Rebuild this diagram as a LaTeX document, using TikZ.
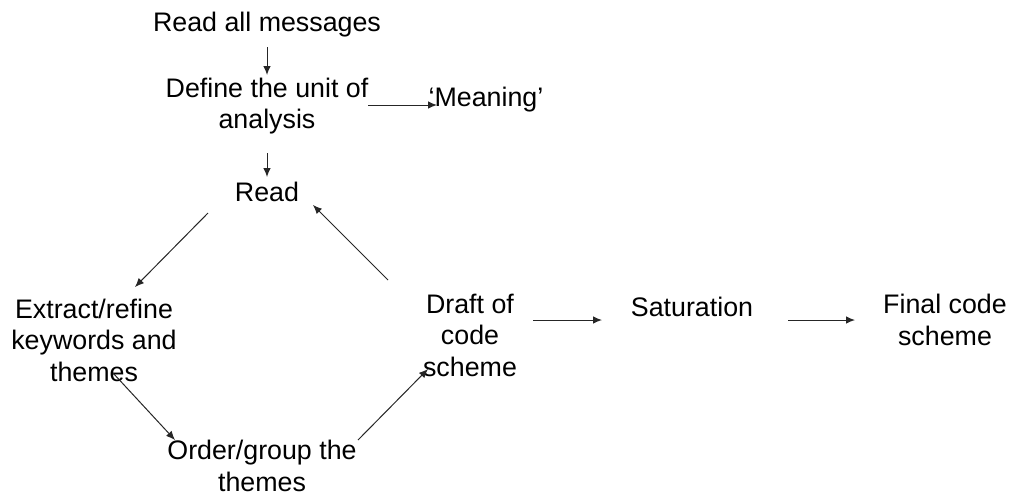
\documentclass[tikz,border=0pt]{standalone}
\usepackage{fontspec}
\setmainfont{Liberation Sans}
\usetikzlibrary{arrows.meta,calc}
\begin{document}
\begin{tikzpicture}[x=1pt,y=-1pt,
  lbl/.style={inner sep=0pt,align=center,font=\fontsize{26.8}{31.5}\selectfont},
  arr/.style={draw=black!85,line width=1pt,-{Latex[length=9pt,width=7.5pt]}}]
\useasboundingbox (0,0) rectangle (1016,496);
\node[lbl] (rm) at (267,25) {Read all messages};
\node[lbl] (def) at (267,106) {Define the unit of\\analysis};
\node[lbl] (mean) at (486,100) {`Meaning'};
\node[lbl] (read) at (267,192) {Read};
\node[lbl] (ext) at (94,340) {Extract/refine\\keywords and\\themes};
\node[lbl] (ord) at (262,466) {Order/group the\\themes};
\node[lbl] (draft) at (470,335) {Draft of\\code\\scheme};
\node[lbl] (sat) at (692,307) {Saturation};
\node[lbl] (fin) at (945,320) {Final code\\scheme};
\draw[arr] ($(rm)+(0,22)$) -- ($(def)+(0,-31)$);
\draw[arr] ($(def)+(101,-1)$) -- ($(mean)+(-49,5)$);
\draw[arr] ($(def)+(0,47)$) -- ($(read)+(0,-15)$);
\draw[arr] ($(read)+(-59,21)$) -- ($(ext)+(41,-53)$);
\draw[arr] ($(ext)+(19,33)$) -- ($(ord)+(-87,-26)$);
\draw[arr] ($(ord)+(96,-26)$) -- ($(draft)+(-42,34)$);
\draw[arr] ($(draft)+(-82,-55)$) -- ($(read)+(46,13)$);
\draw[arr] ($(draft)+(63,-15)$) -- ($(sat)+(-90,13)$);
\draw[arr] ($(sat)+(96,13)$) -- ($(fin)+(-90,0)$);
\end{tikzpicture}
\end{document}
